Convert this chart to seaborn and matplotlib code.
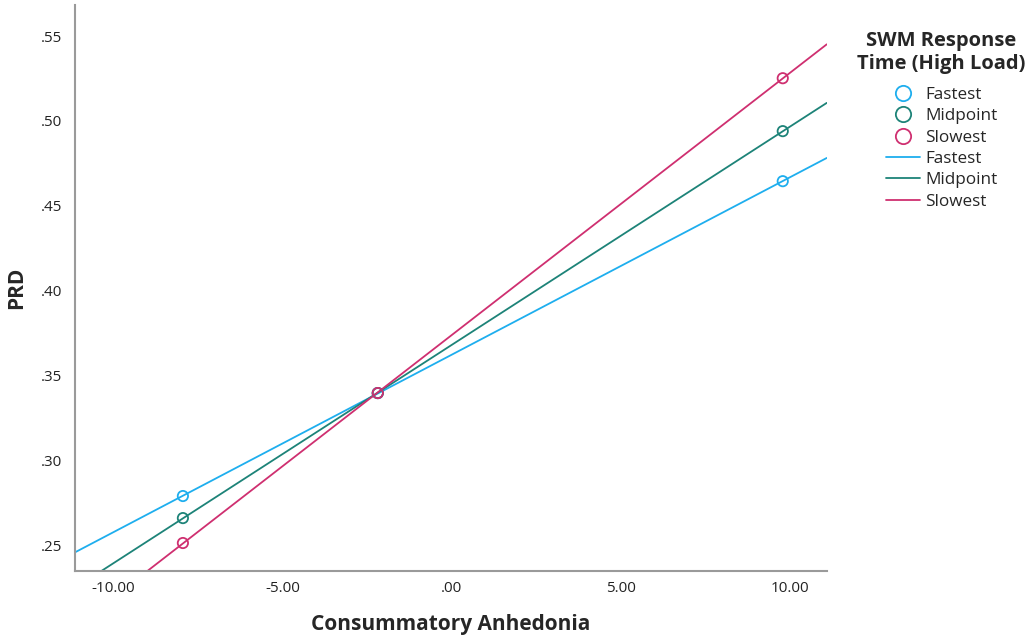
import numpy as np
import pandas as pd
import matplotlib
matplotlib.use("Agg")
import matplotlib.pyplot as plt
import seaborn as sns
from matplotlib.lines import Line2D

# Data
groups = ["Fastest", "Midpoint", "Slowest"]
x_points = [-7.95, -2.19, 9.78]
y_fastest = [0.2789, 0.3396, 0.4645]
y_midpoint = [0.2659, 0.3396, 0.4940]
y_slowest = [0.2512, 0.3396, 0.5252]
x_ticks = [-10, -5, 0, 5, 10]
x_tick_labels = ["-10.00", "-5.00", ".00", "5.00", "10.00"]
y_ticks = [0.25, 0.30, 0.35, 0.40, 0.45, 0.50, 0.55]
y_tick_labels = [".25", ".30", ".35", ".40", ".45", ".50", ".55"]

colors = {"Fastest": "#1EAEEE", "Midpoint": "#1D8378", "Slowest": "#CF2F70"}

sns.set_style("white")
plt.rcParams["font.family"] = ["Open Sans", "DejaVu Sans"]

fig = plt.figure(figsize=(10.27, 6.38), dpi=100)
ax = fig.add_axes([0.073, 0.105, 0.732, 0.887])

xlim = (-11.14, 11.08)
ylim = (0.2347, 0.5683)

df = pd.DataFrame({
    "x": x_points * 3,
    "y": y_fastest + y_midpoint + y_slowest,
    "group": [g for g in groups for _ in x_points],
})

# fitted lines spanning the axis
line_rows = []
for g, ys in zip(groups, [y_fastest, y_midpoint, y_slowest]):
    slope, intercept = np.polyfit(x_points, ys, 1)
    for xv in xlim:
        line_rows.append({"x": xv, "y": intercept + slope * xv, "group": g})
ldf = pd.DataFrame(line_rows)

sns.lineplot(data=ldf, x="x", y="y", hue="group", palette=colors, ax=ax,
             linewidth=1.3, legend=False, zorder=2)
sns.scatterplot(data=df, x="x", y="y", hue="group", palette=colors, ax=ax,
                s=55, marker="o", linewidth=1.3, legend=False, zorder=3)
# hollow markers
for coll in ax.collections:
    fc = coll.get_facecolors()
    coll.set_edgecolors(fc)
    coll.set_facecolors("none")

ax.set_xlim(*xlim)
ax.set_ylim(*ylim)
ax.set_xticks(x_ticks)
ax.set_xticklabels(x_tick_labels, fontsize=11)
ax.set_yticks(y_ticks)
ax.set_yticklabels(y_tick_labels, fontsize=11)
ax.tick_params(axis="x", length=0, pad=7, colors="#222222")
ax.tick_params(axis="y", length=0, pad=9, colors="#222222")
ax.set_xlabel("Consummatory Anhedonia", fontsize=15, fontweight="bold", labelpad=13)
ax.set_ylabel("PRD", fontsize=15, fontweight="bold", labelpad=10)

for side in ["top", "right"]:
    ax.spines[side].set_visible(False)
for side in ["left", "bottom"]:
    ax.spines[side].set_color("#9a9a9a")
    ax.spines[side].set_linewidth(1.5)

handles = []
labels = []
for g in groups:
    handles.append(Line2D([], [], linestyle="none", marker="o", markersize=11,
                          markerfacecolor="none", markeredgecolor=colors[g],
                          markeredgewidth=1.3))
    labels.append(g)
for g in groups:
    handles.append(Line2D([0, 1], [1, 0], color=colors[g], linewidth=1.3))
    labels.append(g)

leg = fig.legend(handles, labels, title="SWM Response\nTime (High Load)",
                 loc="upper left", bbox_to_anchor=(0.828, 0.962), frameon=False,
                 fontsize=12.3, title_fontsize=14.5, handlelength=2.0,
                 labelspacing=0.32, handletextpad=0.3, borderaxespad=0)
leg.get_title().set_fontweight("bold")
leg.get_title().set_multialignment("center")
leg._legend_box.align = "center"
leg._legend_box.sep = 9

fig.savefig("out.png", dpi=100)
